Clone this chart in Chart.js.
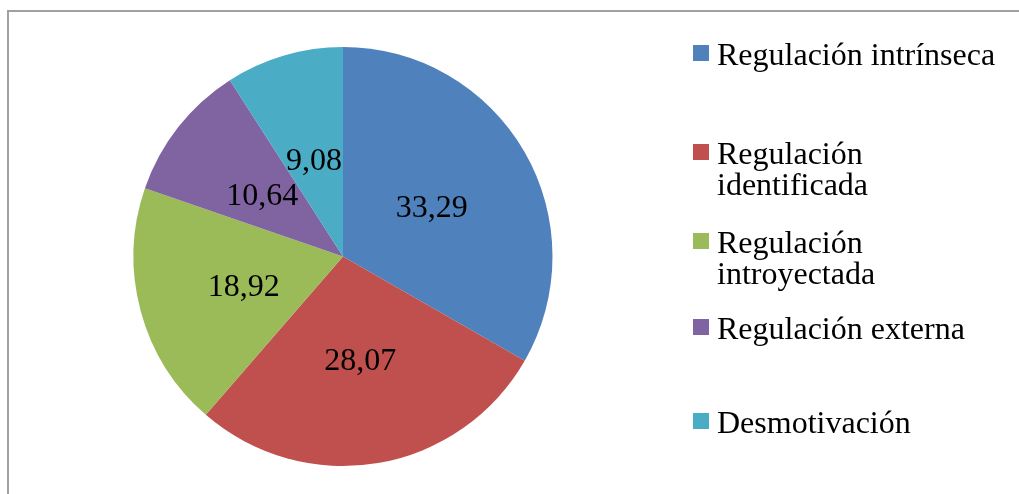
<!DOCTYPE html>
<html>
<head>
<meta charset="utf-8">
<script src="https://cdn.jsdelivr.net/npm/chart.js@4/dist/chart.umd.min.js"></script>
<style>
  html, body { margin: 0; padding: 0; background: #fff; }
  #wrap { width: 1019px; height: 494px; position: relative; }
</style>
</head>
<body>
<div id="wrap"><canvas id="grafico"></canvas></div>
<script>
// datos
var categorias = ['Regulación intrínseca', 'Regulación identificada', 'Regulación introyectada', 'Regulación externa', 'Desmotivación'];
var lineasLeyenda = [['Regulación intrínseca'], ['Regulación', 'identificada'], ['Regulación', 'introyectada'], ['Regulación externa'], ['Desmotivación']];
var valores = [33.29, 28.07, 18.92, 10.64, 9.08];
var colores = ['#4F81BD', '#C0504D', '#9BBB59', '#8064A2', '#4BACC6'];

var fuente = '"Liberation Serif", "Times New Roman", serif';

// marco gris de fondo
var marco = {
  id: 'marco',
  beforeDraw: function (chart) {
    var ctx = chart.ctx;
    ctx.save();
    ctx.fillStyle = '#fff';
    ctx.fillRect(0, 0, chart.width, chart.height);
    ctx.strokeStyle = '#a0a0a0';
    ctx.lineWidth = 2;
    ctx.strokeRect(8, 11, chart.width + 20, chart.height + 20);
    ctx.restore();
  }
};

// etiquetas de valores dentro de cada sector
var etiquetas = {
  id: 'etiquetas',
  afterDatasetsDraw: function (chart) {
    var ctx = chart.ctx;
    var meta = chart.getDatasetMeta(0);
    ctx.save();
    ctx.font = '32px ' + fuente;
    ctx.fillStyle = '#000';
    ctx.textAlign = 'center';
    ctx.textBaseline = 'middle';
    meta.data.forEach(function (arc, i) {
      var p = arc.getProps(['x', 'y', 'startAngle', 'endAngle', 'outerRadius'], true);
      var a = (p.startAngle + p.endAngle) / 2;
      var r = p.outerRadius * 0.49;
      var txt = valores[i].toFixed(2).replace('.', ',');
      ctx.fillText(txt, p.x + Math.cos(a) * r, p.y + Math.sin(a) * r + 4);
    });
    ctx.restore();
  }
};

// leyenda a la derecha
var leyenda = {
  id: 'leyenda',
  afterDraw: function (chart) {
    var ctx = chart.ctx;
    var bases = [[65], [164, 195], [253, 284], [339], [433]];
    ctx.save();
    ctx.font = '32px ' + fuente;
    ctx.textBaseline = 'alphabetic';
    ctx.textAlign = 'left';
    lineasLeyenda.forEach(function (lineas, i) {
      ctx.fillStyle = colores[i];
      ctx.fillRect(693, bases[i][0] - 20, 16, 16);
      ctx.fillStyle = '#000';
      lineas.forEach(function (l, j) {
        ctx.fillText(l, 717, bases[i][j]);
      });
    });
    ctx.restore();
  }
};

var ctx = document.getElementById('grafico').getContext('2d');
new Chart(ctx, {
  type: 'pie',
  data: {
    labels: categorias,
    datasets: [{
      data: valores,
      backgroundColor: colores,
      borderWidth: 0
    }]
  },
  options: {
    responsive: true,
    maintainAspectRatio: false,
    animation: false,
    layout: { padding: { left: 133, right: 466, top: 47, bottom: 28 } },
    plugins: {
      legend: { display: false },
      tooltip: { enabled: false }
    }
  },
  plugins: [marco, etiquetas, leyenda]
});
</script>
</body>
</html>
